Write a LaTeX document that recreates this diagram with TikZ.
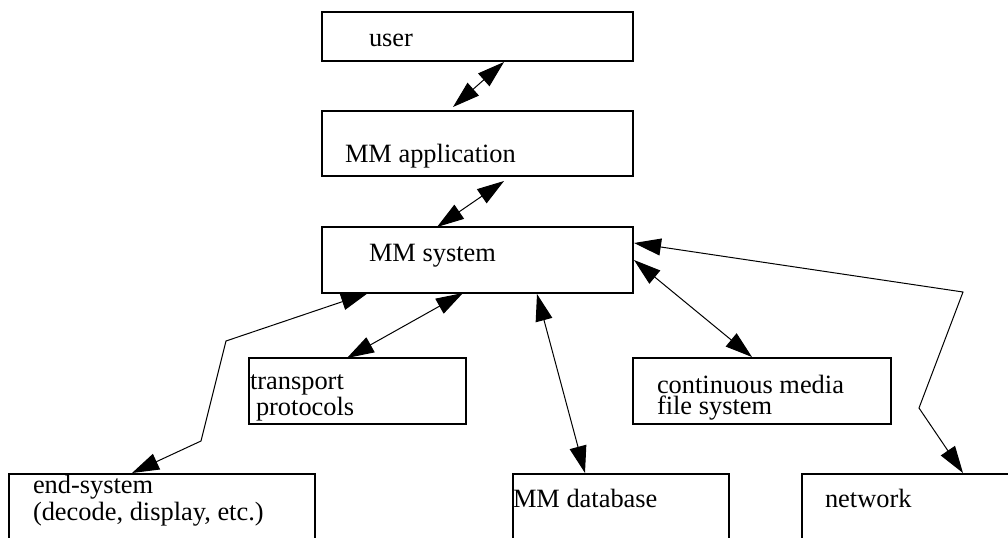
\documentclass[tikz,border=0pt]{standalone}
\usepackage{fontspec}
\setmainfont{Liberation Serif}
\usetikzlibrary{arrows.meta,calc}
\tikzset{
  box/.style={draw, rectangle, inner sep=0pt, outer sep=0pt, line width=0.6pt},
  lbl/.style={anchor=base west, inner sep=0pt, outer sep=0pt, align=left, font=\fontsize{13.2}{10.3}\selectfont},
  conn/.style={line width=0.5pt, {Triangle[length=13.5pt,width=8.5pt]}-{Triangle[length=13.5pt,width=8.5pt]}}
}
\begin{document}
\begin{tikzpicture}[x=0.5pt,y=-0.5pt]
\useasboundingbox (0,0) rectangle (1008,537);
\clip (0,0) rectangle (1008,537);
% boxes
\node[box, minimum width=155.5pt, minimum height=24.5pt] (user) at (477.5,36.5) {};
\node[box, minimum width=155.5pt, minimum height=32.5pt] (app) at (477.5,143.5) {};
\node[box, minimum width=155.5pt, minimum height=33pt] (sys) at (477.5,260) {};
\node[box, minimum width=108.5pt, minimum height=33pt] (tp) at (357.5,391) {};
\node[box, minimum width=129pt, minimum height=33pt] (cm) at (762,391) {};
\node[box, minimum width=153pt, minimum height=50pt] (es) at (162,524) {};
\node[box, minimum width=108pt, minimum height=50pt] (db) at (621,524) {};
\node[box, minimum width=109pt, minimum height=50pt] (net) at (911,524) {};
% texts (multi-line: anchor is the baseline of the last line)
\node[lbl] (tuser) at (369,46.5) {user};
\node[lbl] (tapp) at (345,162) {MM application};
\node[lbl] (tsys) at (369,261) {MM system};
\node[lbl] (ttp) at (250,415) {transport\\\hspace{3pt}protocols};
\node[lbl] (tcm) at (657,414) {continuous media\\file system};
\node[lbl] (tes) at (33,520) {end-system\\(decode, display, etc.)};
\node[lbl] (tdb) at (513,507) {MM database};
\node[lbl] (tnet) at (825,507) {network};
% connectors
\draw[conn] ($(user.south west)+(182,1)$) -- ($(app.north west)+(131,-4)$);
\draw[conn] ($(app.south west)+(182,5)$) -- ($(sys.north west)+(115,0)$);
\draw[conn] ($(sys.south west)+(46,0)$) -- (226,341) -- (201,441) -- ($(es.north west)+(123,-1)$);
\draw[conn] ($(sys.south west)+(141,0)$) -- ($(tp.north west)+(98,0)$);
\draw[conn] ($(sys.south west)+(215,1)$) -- ($(db.north west)+(72,-1)$);
\draw[conn] ($(sys.east)+(1,0)$) -- ($(cm.north west)+(119,-1)$);
\draw[conn] ($(sys.north east)+(1,16)$) -- (963,292) -- (919,408) -- ($(net.north west)+(161,-1)$);
\end{tikzpicture}
\end{document}
